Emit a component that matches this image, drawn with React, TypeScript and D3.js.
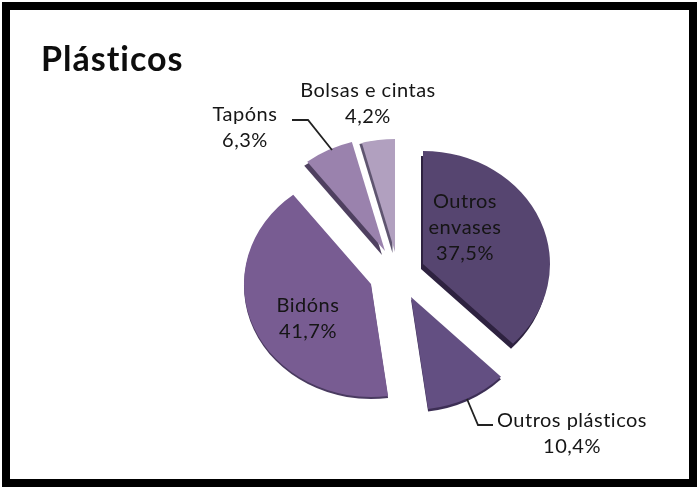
import React from "react";
import * as d3 from "d3";

const categories = ["Outros envases", "Outros plásticos", "Bidóns", "Tapóns", "Bolsas e cintas"];
const values = [37.5, 10.4, 41.7, 6.3, 4.2];
const colors = ["#574570", "#644f82", "#785c92", "#9a82ad", "#b1a0bf"];
const darkColors = ["#2e2340", "#3c2f55", "#4a3a60", "#4f4160", "#5f5570"];
const apexes: [number, number][] = [[423, 264], [411, 297], [371, 284], [385, 251], [395, 252]];
const depth: [number, number][] = [[-2, 5], [0, 2.5], [0, 2], [-3, 4], [-2.5, 1]];
const title = "Plásticos";

const RX = 127;
const RY = 113;
const FONT = "Lato, 'Open Sans', sans-serif";

const labels = [
  { lines: ["Outros", "envases", "37,5%"], x: 465, y: 208 },
  { lines: ["Outros plásticos", "10,4%"], x: 572, y: 427 },
  { lines: ["Bidóns", "41,7%"], x: 308, y: 312 },
  { lines: ["Tapóns", "6,3%"], x: 245, y: 121 },
  { lines: ["Bolsas e cintas", "4,2%"], x: 368, y: 97 },
];

const leaders = [
  [[467, 399], [478, 425], [493, 425]],
  [[332, 150], [308, 120], [292, 120]],
];

export default function App() {
  const pie = d3.pie<number>().sort(null).value((d) => d);
  const arcs = pie(values);
  const arc = d3.arc<d3.PieArcDatum<number>>().innerRadius(0).outerRadius(RX);
  const leaderLine = d3.line();
  return (
    <svg width={700} height={489} style={{ position: "absolute", left: 0, top: 0, background: "#fff" }}>
      <defs>
        <filter id="soft" x="-5%" y="-5%" width="110%" height="110%">
          <feGaussianBlur stdDeviation="0.6" />
        </filter>
      </defs>
      <rect x={6} y={6} width={687} height={477} fill="none" stroke="#000" strokeWidth={8} filter="url(#soft)" />
      <g filter="url(#soft)">
        <text x={41} y={71} fontFamily={FONT} fontWeight={700} fontSize={34} letterSpacing={1} fill="#0a0a0a">{title}</text>
        {arcs.map((d, i) => (
          <g key={categories[i]}>
            <g transform={`translate(${apexes[i][0] + depth[i][0]},${apexes[i][1] + depth[i][1]}) scale(1,${RY / RX})`}>
              <path d={arc(d) ?? ""} fill={darkColors[i]} />
            </g>
            <g transform={`translate(${apexes[i][0]},${apexes[i][1]}) scale(1,${RY / RX})`}>
              <path d={arc(d) ?? ""} fill={colors[i]} />
            </g>
          </g>
        ))}
        {leaders.map((pts, i) => (
          <path key={i} d={leaderLine(pts as [number, number][]) ?? ""} fill="none" stroke="#222" strokeWidth={1.8} />
        ))}
        {labels.map((l) => (
          <text key={l.lines[0]} textAnchor="middle" fontFamily={FONT} fontSize={20} letterSpacing={0.5} fill="#141414">
            {l.lines.map((t, j) => (
              <tspan key={j} x={l.x} y={l.y + j * 26}>{t}</tspan>
            ))}
          </text>
        ))}
      </g>
    </svg>
  );
}
